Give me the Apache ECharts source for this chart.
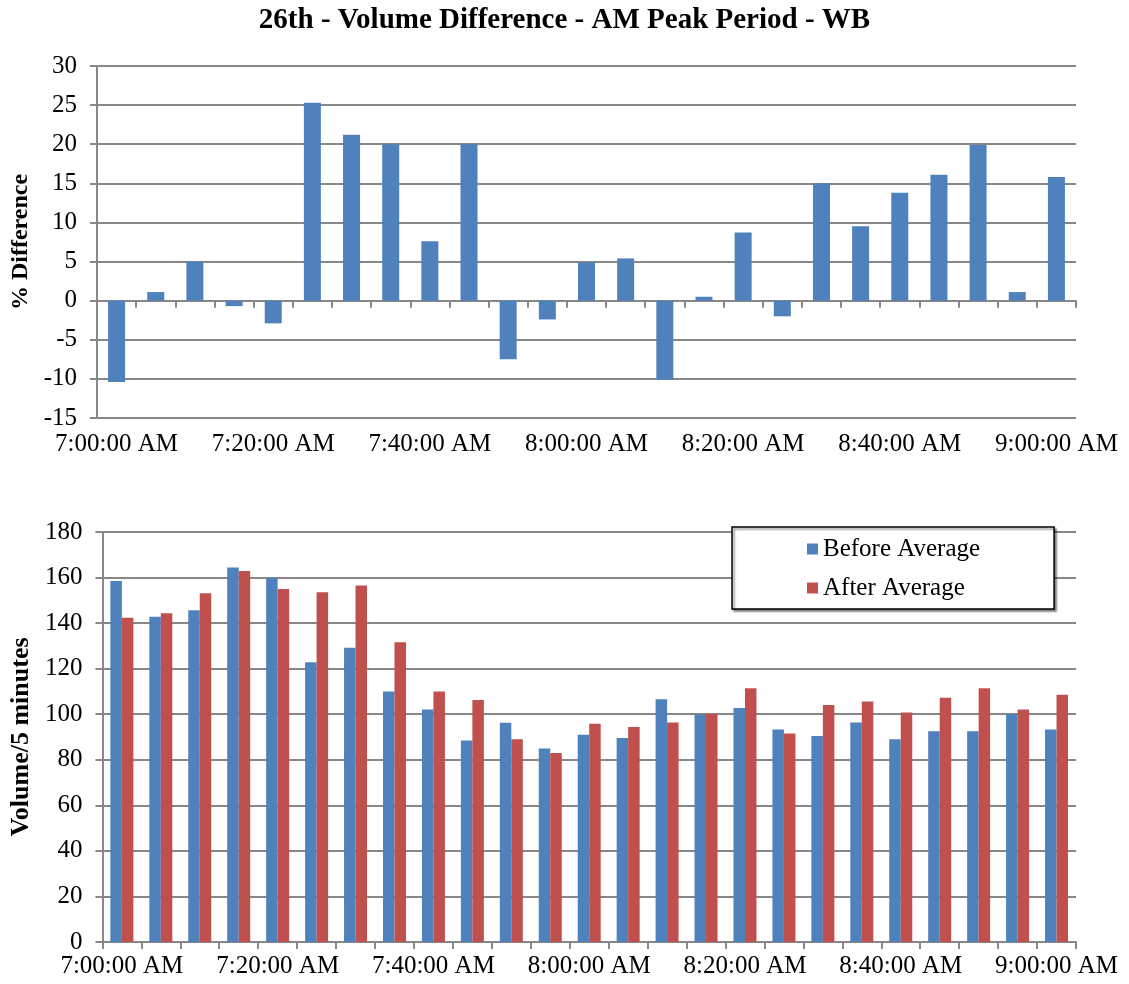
<!DOCTYPE html>
<html>
<head>
<meta charset="utf-8">
<title>26th - Volume Difference - AM Peak Period - WB</title>
<script src="https://cdn.jsdelivr.net/npm/echarts@6/dist/echarts.min.js"></script>
<style>
  html, body { margin: 0; padding: 0; background: #fff; }
  #chart { width: 1129px; height: 984px; }
</style>
</head>
<body>
<div id="chart"></div>
<script>
// 5-minute intervals, 7:00 to 9:00 AM
const times = [
  '7:00:00 AM', '7:05:00 AM', '7:10:00 AM', '7:15:00 AM', '7:20:00 AM',
  '7:25:00 AM', '7:30:00 AM', '7:35:00 AM', '7:40:00 AM', '7:45:00 AM',
  '7:50:00 AM', '7:55:00 AM', '8:00:00 AM', '8:05:00 AM', '8:10:00 AM',
  '8:15:00 AM', '8:20:00 AM', '8:25:00 AM', '8:30:00 AM', '8:35:00 AM',
  '8:40:00 AM', '8:45:00 AM', '8:50:00 AM', '8:55:00 AM', '9:00:00 AM'
];

// % difference between the two counts
const pctDiff = [
  -10.4, 1.1, 5.0, -0.7, -2.9, 25.3, 21.2, 20.0, 7.6, 20.0,
  -7.5, -2.4, 4.9, 5.4, -10.1, 0.5, 8.7, -2.0, 15.0, 9.5,
  13.8, 16.1, 19.9, 1.1, 15.8
];

// volume per 5 minutes
const beforeAvg = [
  158.5, 142.8, 145.7, 164.4, 159.9, 122.8, 129.2, 110.0, 102.1, 88.5,
  96.3, 85.0, 91.0, 89.6, 106.6, 99.9, 102.7, 93.3, 90.4, 96.4,
  89.0, 92.5, 92.5, 100.1, 93.3
];
const afterAvg = [
  142.4, 144.3, 153.1, 162.9, 155.0, 153.6, 156.5, 131.6, 110.0, 106.2,
  89.0, 83.0, 95.8, 94.4, 96.4, 100.2, 111.4, 91.5, 104.1, 105.6,
  100.8, 107.2, 111.4, 102.1, 108.5
];

const seriesNames = ['Before Average', 'After Average'];
const pctRange = { min: -15, max: 30, interval: 5 };
const volRange = { min: 0, max: 180, interval: 20 };

const SERIF = '"Liberation Serif", "Times New Roman", serif';
const GRID_GRAY = '#878787';
const BLUE = '#4F81BD';
const RED = '#C0504D';

const tickLabel = { fontFamily: SERIF, fontSize: 25, color: '#000' };

function valueAxis(gridIndex, range, name, nameGap, nameSize) {
  return {
    type: 'value',
    gridIndex: gridIndex,
    min: range.min,
    max: range.max,
    interval: range.interval,
    name: name,
    nameLocation: 'middle',
    nameRotate: 90,
    nameGap: nameGap,
    nameTextStyle: { fontFamily: SERIF, fontSize: nameSize, fontWeight: 'bold', color: '#000' },
    axisLine: { show: true, lineStyle: { color: GRID_GRAY, width: 2 } },
    axisTick: { show: true, length: 7, lineStyle: { color: GRID_GRAY, width: 2 } },
    axisLabel: Object.assign({ margin: 20 }, tickLabel),
    splitLine: { show: true, lineStyle: { color: GRID_GRAY, width: 2 } }
  };
}

const chart = echarts.init(document.getElementById('chart'), null, { renderer: 'canvas' });

chart.setOption({
  animation: false,
  backgroundColor: '#fff',
  title: {
    text: '26th - Volume Difference - AM Peak Period - WB',
    left: 'center',
    top: 1,
    textStyle: { fontFamily: SERIF, fontSize: 29, fontWeight: 'bold', color: '#000' }
  },
  legend: {
    data: seriesNames,
    orient: 'vertical',
    left: 732,
    top: 527,
    icon: 'rect',
    itemWidth: 11,
    itemHeight: 11,
    itemGap: 13,
    padding: [9, 74, 8, 75],
    backgroundColor: '#fff',
    borderColor: '#000',
    borderWidth: 1.5,
    shadowColor: 'rgba(0,0,0,0.45)',
    shadowBlur: 2,
    shadowOffsetX: 2,
    shadowOffsetY: 2,
    textStyle: Object.assign({ lineHeight: 26 }, tickLabel)
  },
  grid: [
    { left: 97, right: 53, top: 66, height: 352 },
    { left: 100, right: 53, top: 532, height: 410 }
  ],
  xAxis: [
    {
      // axis line and ticks sit on the zero line
      type: 'category',
      gridIndex: 0,
      data: times,
      axisLine: { show: true, onZero: true, lineStyle: { color: GRID_GRAY, width: 2 } },
      axisTick: { show: true, interval: 0, length: 7, lineStyle: { color: GRID_GRAY, width: 2 } },
      axisLabel: { show: false },
      splitLine: { show: false }
    },
    {
      // time labels along the bottom of the upper panel
      type: 'category',
      gridIndex: 0,
      position: 'bottom',
      data: times,
      axisLine: { show: false, onZero: false },
      axisTick: { show: false },
      axisLabel: Object.assign({ interval: 3, margin: 14 }, tickLabel),
      splitLine: { show: false }
    },
    {
      type: 'category',
      gridIndex: 1,
      data: times,
      axisLine: { show: true, lineStyle: { color: GRID_GRAY, width: 2 } },
      axisTick: { show: true, interval: 0, length: 7, lineStyle: { color: GRID_GRAY, width: 2 } },
      axisLabel: Object.assign({ interval: 3, margin: 12 }, tickLabel),
      splitLine: { show: false }
    }
  ],
  yAxis: [
    valueAxis(0, pctRange, '% Difference', 62, 24),
    valueAxis(1, volRange, 'Volume/5 minutes', 65, 26)
  ],
  series: [
    {
      name: '% Difference',
      type: 'bar',
      xAxisIndex: 0,
      yAxisIndex: 0,
      data: pctDiff,
      barWidth: 17,
      itemStyle: { color: BLUE }
    },
    {
      name: seriesNames[0],
      type: 'bar',
      xAxisIndex: 2,
      yAxisIndex: 1,
      data: beforeAvg,
      barWidth: 11.5,
      barGap: '0%',
      itemStyle: { color: BLUE }
    },
    {
      name: seriesNames[1],
      type: 'bar',
      xAxisIndex: 2,
      yAxisIndex: 1,
      data: afterAvg,
      barWidth: 11.5,
      barGap: '0%',
      itemStyle: { color: RED }
    }
  ]
});
</script>
</body>
</html>
